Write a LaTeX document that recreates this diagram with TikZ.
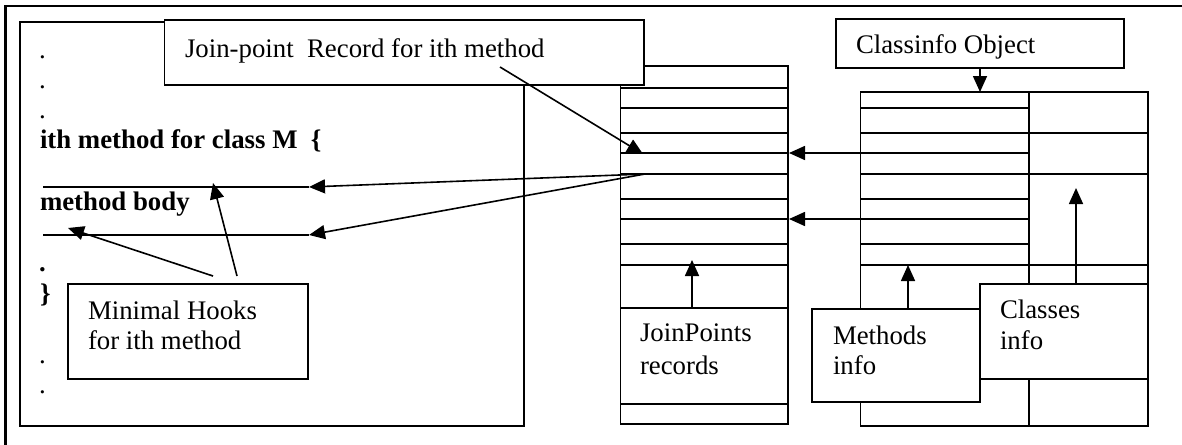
\documentclass[tikz,border=0pt]{standalone}
\usepackage{fontspec}
\setmainfont{Liberation Serif}
\usetikzlibrary{arrows.meta}
\begin{document}
\begin{tikzpicture}[x=1pt,y=-1pt,
  box/.style={draw,line width=1.3pt,fill=white,inner sep=0pt,outer sep=0pt,anchor=north west},
  txt/.style={inner sep=0pt,outer sep=0pt,anchor=base west,font=\fontsize{26.8pt}{32pt}\selectfont},
  code/.style={txt,font=\fontsize{26.8pt}{32pt}\selectfont\bfseries},
  rule/.style={line width=1.3pt},
  ptr/.style={line width=1.6pt,-{Triangle[length=16pt,width=14pt]}}]
\useasboundingbox (0,0) rectangle (1182,444);
\clip (0,0) rectangle (1182,444);

% page frame (runs past the edges)
\draw[line width=2.5pt] (5.5,460) -- (5.5,6) -- (1200,6);

% source code listing
\node[box,minimum width=504pt,minimum height=404pt] (codebox) at (20,22) {};
\node[txt] (d1) at (39,58.5) {.};
\node[txt] (d2) at (39,88) {.};
\node[txt] (d3) at (39,118.5) {.};
\node[code] (head) at (40,148) {ith method for class M\ \ \{};
\node[code] (body) at (40,210) {method body};
\node[code] (d4) at (39,271) {.};
\node[code] (close) at (40,302) {\}};
\node[txt] (d5) at (39,363) {.};
\node[txt] (d6) at (39,393) {.};

% hook lines
\coordinate (h1s) at (43,187);
\coordinate (h1e) at (309,187);
\coordinate (h2s) at (43,235);
\coordinate (h2e) at (309,235);
\draw[rule] (h1s) -- (h1e);
\draw[rule] (h2s) -- (h2e);

% join-point records column
\node[box,minimum width=167.5pt,minimum height=358pt] (jpcol) at (620.5,66) {};
\foreach \yy in {88,108,133,153,174,199,219,244,265,308,404}
  \draw[rule] (620.5,\yy) -- (788,\yy);

% classinfo column (methods | classes)
\node[box,minimum width=287.5pt,minimum height=334pt] (cicol) at (860.5,92) {};
\draw[rule] (1029,92) -- (1029,426);
\foreach \yy in {108,153,199,219,244}
  \draw[rule] (860.5,\yy) -- (1029,\yy);
\foreach \yy in {133,174,265}
  \draw[rule] (860.5,\yy) -- (1148,\yy);

% labels
\node[box,minimum width=479.5pt,minimum height=65pt] (jpbox) at (164.5,20) {};
\node[txt] (jplabel) at (185,58) {Join-point\ \ Record for ith method};

\node[box,minimum width=288pt,minimum height=49pt] (cibox) at (836,19) {};
\node[txt] (cilabel) at (856,53) {Classinfo Object};
\draw[line width=1.3pt] (1037,18.2) -- (1077,18.2);

\node[box,minimum width=240pt,minimum height=95pt] (hookbox) at (68,284) {};
\node[txt] (hook1) at (88,319) {Minimal Hooks};
\node[txt] (hook2) at (88,349) {for ith method};

\node[box,minimum width=168pt,minimum height=93pt] (mbox) at (812,309) {};
\node[txt] (m1) at (833,344) {Methods};
\node[txt] (m2) at (833,374) {info};

\node[box,minimum width=168pt,minimum height=95pt] (cbox) at (980,284) {};
\node[txt] (c1) at (1000,318) {Classes};
\node[txt] (c2) at (1000,349) {info};

\node[txt] (jr1) at (640,341) {JoinPoints};
\node[txt] (jr2) at (640,374) {records};

% connector end points
\coordinate (jpfrom) at (500,67);
\coordinate (jpto) at (643,154);
\coordinate (rec) at (645,174);
\coordinate (mrow1) at (860,153);
\coordinate (jrow1) at (789,153);
\coordinate (mrow2) at (860,219);
\coordinate (jrow2) at (789,219);
\coordinate (cifrom) at (980,68);
\coordinate (cito) at (980,92);
\coordinate (jrfrom) at (692,308);
\coordinate (jrto) at (692,260);
\coordinate (mfrom) at (908,309);
\coordinate (mto) at (908,265);
\coordinate (cfrom) at (1076,284);
\coordinate (cto) at (1076,188);
\coordinate (hk1) at (213,276);
\coordinate (hk1to) at (68,228);
\coordinate (hk2) at (237,276);
\coordinate (hk2to) at (213,183);

% connectors
\draw[ptr] (jpfrom) -- (jpto);
\draw[ptr] (rec) -- (h1e);
\draw[ptr] (rec) -- (h2e);
\draw[ptr] (mrow1) -- (jrow1);
\draw[ptr] (mrow2) -- (jrow2);
\draw[ptr] (cifrom) -- (cito);
\draw[ptr] (jrfrom) -- (jrto);
\draw[ptr] (mfrom) -- (mto);
\draw[ptr] (cfrom) -- (cto);
\draw[ptr] (hk1) -- (hk1to);
\draw[ptr] (hk2) -- (hk2to);
\end{tikzpicture}
\end{document}
